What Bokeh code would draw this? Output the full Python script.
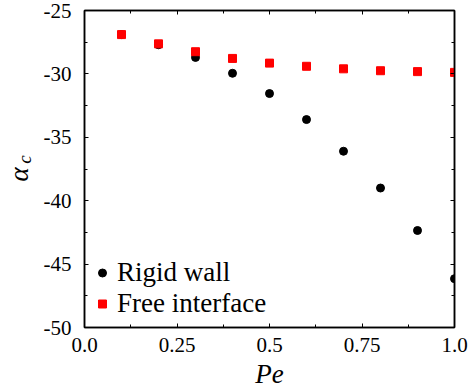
import numpy as np
from bokeh.plotting import figure
from bokeh.layouts import row
from bokeh.models import (LinearAxis, Range1d, Legend, LegendItem, Label,
                          FixedTicker)
from bokeh.embed import file_html
from bokeh.resources import INLINE

# ---- data ----
pe = [0.1, 0.2, 0.3, 0.4, 0.5, 0.6, 0.7, 0.8, 0.9, 1.0]
rigid_wall = [-26.9, -27.7, -28.7, -29.95, -31.55, -33.6, -36.1, -39.0, -42.35, -46.15]
free_interface = [-26.9, -27.63, -28.25, -28.78, -29.15, -29.4, -29.6, -29.75, -29.82, -29.88]

x_ticks = [0.0, 0.25, 0.5, 0.75, 1.0]
x_tick_labels = ["0.0", "0.25", "0.5", "0.75", "1.0"]
y_ticks = [-50, -45, -40, -35, -30, -25]
y_tick_labels = ["-50", "-45", "-40", "-35", "-30", "-25"]

FONT = "Liberation Serif"
LEFT_W = 40

p = figure(width=469 - LEFT_W, height=392, output_backend="svg", toolbar_location=None,
           x_range=Range1d(0, 1), y_range=Range1d(-50, -25),
           min_border_left=84 - LEFT_W, min_border_right=15, min_border_top=10,
           min_border_bottom=65)
p.outline_line_color = "black"
p.outline_line_width = 1.5
p.grid.visible = False
p.background_fill_color = "white"
p.border_fill_color = "white"

def style_axis(ax, show_labels):
    ax.axis_line_color = "black"
    ax.axis_line_width = 1.5
    ax.major_tick_in = 4
    ax.major_tick_out = 0
    ax.minor_tick_in = 3
    ax.minor_tick_out = 0
    ax.major_tick_line_color = "black"
    ax.minor_tick_line_color = "black"
    ax.major_label_text_font = FONT
    ax.major_label_text_font_size = "21px"
    ax.major_label_text_color = "black"
    if not show_labels:
        ax.major_label_text_alpha = 0
        ax.major_label_text_font_size = "1px"

xt = FixedTicker(ticks=x_ticks, minor_ticks=[0.125, 0.375, 0.625, 0.875])
yt = FixedTicker(ticks=y_ticks, minor_ticks=[-47.5, -42.5, -37.5, -32.5, -27.5])

xa = p.xaxis[0]
xa.ticker = xt
xa.major_label_overrides = {t: l for t, l in zip(x_ticks, x_tick_labels)}
style_axis(xa, True)
xa.major_label_standoff = 10
xa.axis_label = "Pe"
xa.axis_label_text_font = FONT
xa.axis_label_text_font_style = "italic"
xa.axis_label_text_font_size = "27px"
xa.axis_label_text_color = "black"
xa.axis_label_standoff = 4

ya = p.yaxis[0]
ya.ticker = yt
ya.major_label_overrides = {t: l for t, l in zip(y_ticks, y_tick_labels)}
style_axis(ya, True)
ya.major_label_standoff = 13

top = LinearAxis(ticker=xt)
style_axis(top, False)
right = LinearAxis(ticker=yt)
style_axis(right, False)
p.add_layout(top, "above")
p.add_layout(right, "right")

r1 = p.scatter(pe, rigid_wall, marker="circle", size=8, color="black")
r2 = p.scatter(pe, free_interface, marker="square", size=8, color="red")

legend = Legend(items=[LegendItem(label="Rigid wall", renderers=[r1]),
                       LegendItem(label="Free interface", renderers=[r2])],
                location=(8, 8), padding=0, margin=0, spacing=0,
                label_text_font=FONT, label_text_font_size="27px",
                label_text_color="black",
                label_height=31, glyph_height=31, glyph_width=20,
                label_standoff=5,
                border_line_alpha=0, background_fill_alpha=0)
p.add_layout(legend, "center")

# narrow companion figure carrying the rotated y-axis label alpha_c
# (its frame is aligned with the main frame: bottom at canvas y=327)
lab = figure(width=LEFT_W, height=392, output_backend="svg", toolbar_location=None,
             x_axis_type=None, y_axis_type=None, min_border=0,
             x_range=Range1d(0, 1), y_range=Range1d(0, 1))
lab.outline_line_color = None
lab.grid.visible = False
lab.background_fill_color = "white"
lab.border_fill_color = "white"
lab.add_layout(Label(x=18, y=153, x_units="screen", y_units="screen",
                     text="α", angle=np.pi / 2, text_font=FONT,
                     text_font_style="italic", text_font_size="27px",
                     text_color="black",
                     text_align="center", text_baseline="middle"))
lab.add_layout(Label(x=24, y=168, x_units="screen", y_units="screen",
                     text="c", angle=np.pi / 2, text_font=FONT,
                     text_font_style="italic", text_font_size="19px",
                     text_color="black",
                     text_align="center", text_baseline="middle"))

layout = row(lab, p, spacing=0)
open("out.html", "w").write(file_html(layout, INLINE))
